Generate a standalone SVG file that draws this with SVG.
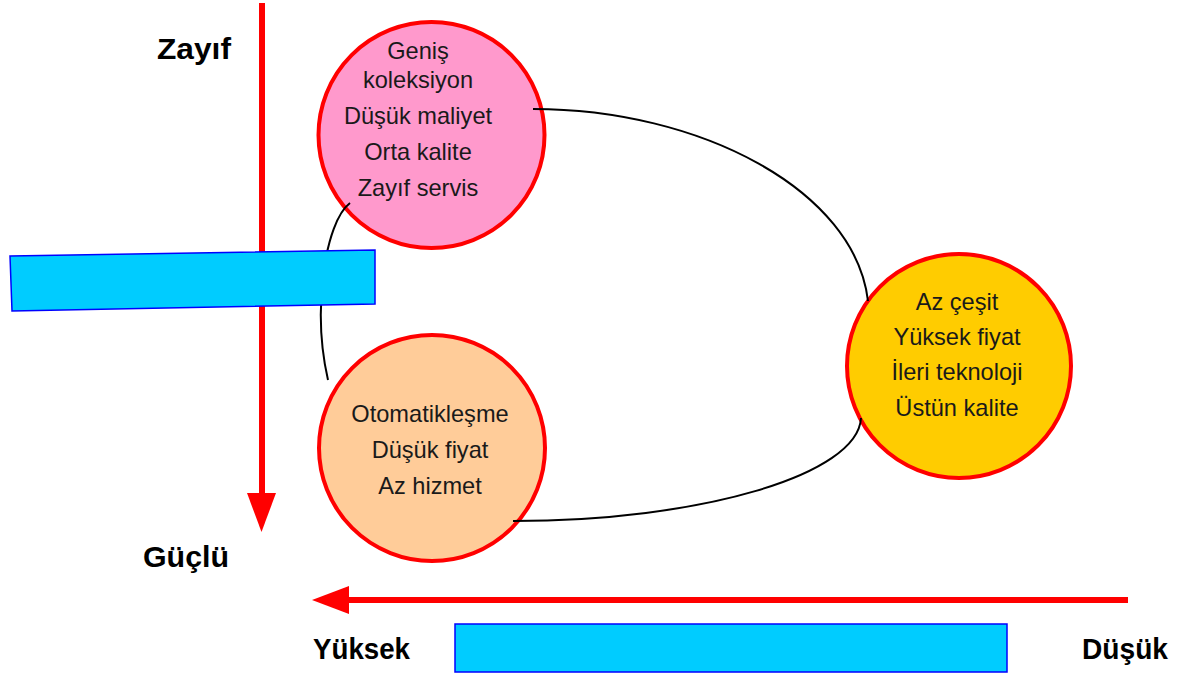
<svg xmlns="http://www.w3.org/2000/svg" width="1177" height="675" viewBox="0 0 1177 675">
  <style>
    .node-circle { stroke: #ff0000; stroke-width: 4; }
    .node-text { font-family: "Liberation Sans", Arial, sans-serif; font-size: 23.6px; fill: #1a1a1a; text-anchor: middle; }
    .axis-label { font-family: "Liberation Sans", Arial, sans-serif; font-size: 30px; font-weight: bold; fill: #000000; }
    .link { fill: none; stroke: #000000; stroke-width: 2; }
    .axis { fill: #ff0000; }
    .bar { fill: #00ccff; stroke: #0000ff; stroke-width: 1.5; }
  </style>

  <rect width="1177" height="675" fill="#ffffff"/>

  <!-- axes -->
  <g id="axes">
    <rect class="axis" x="259" y="3" width="6" height="492"/>
    <polygon class="axis" points="247,493 276,493 261.5,532"/>
    <rect class="axis" x="346" y="597" width="782" height="6"/>
    <polygon class="axis" points="349,586 349,614 312,600"/>
  </g>

  <g id="node-genis">
    <circle class="node-circle" cx="431.5" cy="135" r="113" fill="#ff99cc"/>
    <text class="node-text" x="418" y="59">Geniş</text>
    <text class="node-text" x="418" y="88">koleksiyon</text>
    <text class="node-text" x="418" y="124">Düşük maliyet</text>
    <text class="node-text" x="418" y="160">Orta kalite</text>
    <text class="node-text" x="418" y="196">Zayıf servis</text>
  </g>

  <g id="node-otomatik">
    <circle class="node-circle" cx="432" cy="448" r="113" fill="#ffcc99"/>
    <text class="node-text" x="430" y="422">Otomatikleşme</text>
    <text class="node-text" x="430" y="458">Düşük fiyat</text>
    <text class="node-text" x="430" y="494">Az hizmet</text>
  </g>

  <g id="node-azcesit">
    <circle class="node-circle" cx="959" cy="366" r="112" fill="#ffcc00"/>
    <text class="node-text" x="957" y="310">Az çeşit</text>
    <text class="node-text" x="957" y="345">Yüksek fiyat</text>
    <text class="node-text" x="957" y="380">İleri teknoloji</text>
    <text class="node-text" x="957" y="416">Üstün kalite</text>
  </g>

  <!-- connectors, drawn over the circle rims -->
  <g id="connectors">
    <path class="link" d="M533,109 C700,109 855,190 868,301"/>
    <path class="link" d="M861,418 C858,475 700,521 513,521"/>
    <path class="link" d="M350,203 C325,222 312,310 328,380"/>
  </g>

  <!-- blue bars -->
  <g id="bar-left">
    <polygon class="bar" points="10,256 375,250 375,304 12,311"/>
  </g>
  <g id="bar-bottom">
    <rect class="bar" x="455" y="624" width="552" height="48"/>
  </g>

  <!-- axis labels -->
  <g id="labels">
    <text class="axis-label" x="157" y="59" textLength="74" lengthAdjust="spacingAndGlyphs">Zayıf</text>
    <text class="axis-label" x="143" y="567" textLength="86" lengthAdjust="spacingAndGlyphs">Güçlü</text>
    <text class="axis-label" x="313" y="659" textLength="97" lengthAdjust="spacingAndGlyphs">Yüksek</text>
    <text class="axis-label" x="1082" y="659" textLength="86" lengthAdjust="spacingAndGlyphs">Düşük</text>
  </g>
</svg>
